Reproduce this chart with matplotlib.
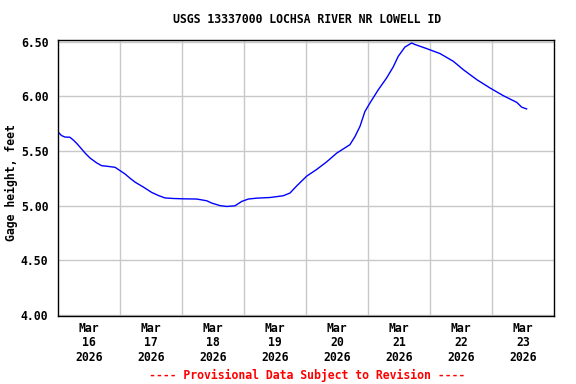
"""USGS gage height plot — Lochsa River nr Lowell, one week of provisional data."""
from datetime import datetime, timedelta

import matplotlib
matplotlib.use("Agg")
import matplotlib.pyplot as plt

# hours after 2026-03-16 00:00 and gage height (ft)
hours = [0.0, 1.4, 2.7, 4.6, 5.9, 7.2, 8.5, 10.5, 12.4, 15.0, 16.9, 18.9,
         22.1, 24.0, 25.9, 27.9, 29.8, 33.0, 36.3, 38.8, 41.4, 44.6, 48.5,
         53.7, 57.6, 59.5, 62.7, 65.3, 68.5, 71.1, 73.7, 76.9, 82.1, 87.2,
         89.8, 92.4, 96.3, 100.1, 104.0, 107.9, 113.0, 115.0, 116.9, 118.8,
         120.8, 124.0, 127.2, 129.8, 131.7, 134.3, 136.9, 138.2, 142.7,
         147.9, 153.0, 156.9, 162.1, 167.2, 172.4, 177.6, 179.5, 181.4]
gage = [5.673, 5.64, 5.627, 5.625, 5.60, 5.57, 5.535, 5.48, 5.435, 5.39,
        5.365, 5.36, 5.35, 5.32, 5.29, 5.25, 5.215, 5.17, 5.12, 5.093, 5.07,
        5.065, 5.062, 5.06, 5.044, 5.023, 5.00, 4.992, 4.998, 5.038, 5.06,
        5.068, 5.074, 5.09, 5.115, 5.18, 5.27, 5.33, 5.40, 5.48, 5.557,
        5.633, 5.725, 5.86, 5.94, 6.06, 6.167, 6.27, 6.365, 6.45, 6.487,
        6.473, 6.436, 6.39, 6.32, 6.243, 6.152, 6.076, 6.005, 5.944, 5.90,
        5.884]
day_labels = ["Mar\n16\n2026", "Mar\n17\n2026", "Mar\n18\n2026", "Mar\n19\n2026",
              "Mar\n20\n2026", "Mar\n21\n2026", "Mar\n22\n2026", "Mar\n23\n2026"]
y_ticks = [4.0, 4.5, 5.0, 5.5, 6.0, 6.5]

start = datetime(2026, 3, 16)
times = [start + timedelta(hours=h) for h in hours]
midnights = [start + timedelta(days=d) for d in range(9)]
noons = [start + timedelta(days=d, hours=12) for d in range(8)]

FONT = dict(family="DejaVu Sans Mono", fontweight="bold", fontsize=8.3)

fig = plt.figure(figsize=(5.76, 3.84), dpi=100)
ax = fig.add_axes([0.1007, 0.177, 0.8611, 0.719])
ax.plot(times, gage, color="#0000ff", lw=1.0)

ax.set_xlim(midnights[0], midnights[-1])
ax.set_ylim(3.99, 6.515)
ax.set_yticks(y_ticks)
ax.set_yticklabels([f"{v:.2f}" for v in y_ticks], **FONT)
ax.set_xticks(noons)
ax.set_xticklabels(day_labels, linespacing=1.15, **FONT)
ax.set_xticks(midnights[1:-1], minor=True)
ax.grid(True, which="minor", axis="x", color="#c8c8c8", lw=1.0)
ax.grid(True, which="major", axis="y", color="#c8c8c8", lw=1.0)
ax.tick_params(axis="x", which="both", length=0, pad=4)
ax.tick_params(axis="y", length=0, pad=7)
for s in ax.spines.values():
    s.set_linewidth(1.0)

fig.text(11 / 576, 1 - 183 / 384, "Gage height, feet", rotation=90,
         ha="center", va="center", **FONT)
fig.text(0.533, 0.95, "USGS 13337000 LOCHSA RIVER NR LOWELL ID", ha="center",
         va="center", **FONT)
fig.text(0.533, 0.023, "---- Provisional Data Subject to Revision ----",
         ha="center", va="center", color="#ff0000", **FONT)

fig.savefig("out.png", dpi=100, facecolor="white")
